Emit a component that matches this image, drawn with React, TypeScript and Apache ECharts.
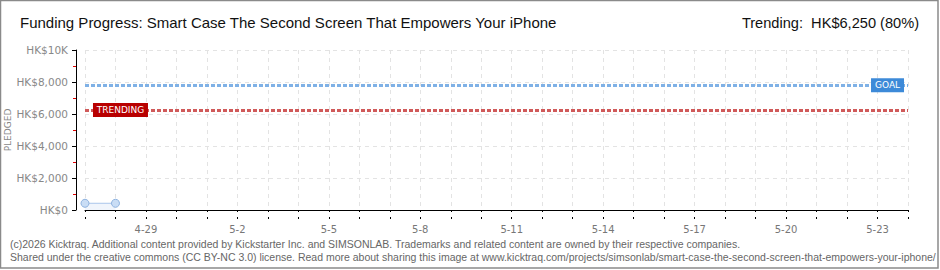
import React, { useEffect, useRef } from "react";
import * as echarts from "echarts";

const titleText = "Funding Progress: Smart Case The Second Screen That Empowers Your iPhone";
const trendingText = "Trending:  HK$6,250 (80%)";
const yAxisName = "PLEDGED";
const footerLine1 = "(c)2026 Kicktraq. Additional content provided by Kickstarter Inc. and SIMSONLAB. Trademarks and related content are owned by their respective companies.";
const footerLine2 = "Shared under the creative commons (CC BY-NC 3.0) license. Read more about sharing this image at www.kicktraq.com/projects/simsonlab/smart-case-the-second-screen-that-empowers-your-iphone/";

const days = [
  "4-27", "4-28", "4-29", "4-30", "5-1", "5-2", "5-3", "5-4", "5-5", "5-6",
  "5-7", "5-8", "5-9", "5-10", "5-11", "5-12", "5-13", "5-14", "5-15", "5-16",
  "5-17", "5-18", "5-19", "5-20", "5-21", "5-22", "5-23", "5-24",
];
const pledged = [420, 420];
const goalValue = 7800;
const trendingValue = 6250;
const yTicks = [0, 2000, 4000, 6000, 8000, 10000];

export default function App() {
  const ref = useRef<HTMLDivElement>(null);
  useEffect(() => {
    document.body.style.margin = "0";
    const chart = echarts.init(ref.current!, null, { renderer: "svg" });
    const pixelFont = "DejaVu Sans";
    const option: any = {
      animation: false,
      backgroundColor: "#fff",
      grid: { left: 85, right: 32, top: 50, bottom: 60, containLabel: false, outerBoundsMode: "none" },
      xAxis: [
        {
          type: "category",
          data: days,
          boundaryGap: false,
          offset: 9,
          axisLine: { show: true, lineStyle: { color: "#000", width: 1 } },
          axisTick: { show: true, interval: 0, length: 2, lineStyle: { color: "#000" } },
          axisLabel: {
            interval: (i: number) => i % 3 === 2,
            color: "#777",
            fontFamily: pixelFont,
            fontSize: 10,
            margin: 5,
          },
          splitLine: { show: true, interval: 0, lineStyle: { color: "#e3e3e3", type: [4, 4] } },
        },
        {
          type: "category",
          data: days,
          boundaryGap: false,
          position: "bottom",
          offset: 9,
          axisLine: { show: false },
          axisTick: { show: true, inside: true, interval: 0, length: 2, lineStyle: { color: "#000" } },
          axisLabel: { show: false },
          splitLine: { show: false },
        },
      ],
      yAxis: {
        type: "value",
        min: 0,
        max: 10000,
        interval: 2000,
        offset: 9,
        axisLine: { show: true, lineStyle: { color: "#000" } },
        axisTick: { show: true, length: 4, lineStyle: { color: "#000" } },
        minorTick: { show: true, splitNumber: 2, length: 3, lineStyle: { color: "#e00000" } },
        axisLabel: {
          color: "#888",
          fontFamily: pixelFont,
          fontSize: 10.5,
          margin: 8,
          formatter: (v: number) =>
            v === yTicks[yTicks.length - 1] ? "HK$10K" : "HK$" + v.toLocaleString("en-US"),
        },
        splitLine: { show: true, lineStyle: { color: "#e3e3e3", type: [4, 4] } },
      },
      series: [
        {
          type: "line",
          data: pledged,
          symbol: "circle",
          symbolSize: 8,
          itemStyle: { color: "#c9ddf5", borderColor: "#8eb2df", borderWidth: 1 },
          lineStyle: { color: "#a9c6ea", width: 1 },
          areaStyle: { color: "#e9f1fb" },
          z: 5,
          markLine: {
            silent: true,
            symbol: "none",
            label: { show: false },
            data: [
              { yAxis: goalValue, lineStyle: { color: "#7fb1e6", width: 3, type: [4, 2] } },
              { yAxis: trendingValue, lineStyle: { color: "#d05a5a", width: 3, type: [4, 2] } },
            ],
          },
          markPoint: {
            silent: true,
            data: [
              {
                coord: [days[1], trendingValue],
                symbol: "rect",
                symbolSize: [55, 14],
                symbolOffset: [5, 0],
                itemStyle: { color: "#b80000" },
                label: {
                  show: true,
                  formatter: "TRENDING",
                  color: "#fff",
                  fontFamily: pixelFont,
                  fontSize: 9,
                },
              },
              {
                coord: [days[26], goalValue],
                symbol: "rect",
                symbolSize: [33, 14],
                symbolOffset: [10, 0],
                itemStyle: { color: "#3d8ad8" },
                label: {
                  show: true,
                  formatter: "GOAL",
                  color: "#fff",
                  fontFamily: pixelFont,
                  fontSize: 9,
                },
              },
            ],
          },
        },
      ],
      graphic: [
        {
          type: "rect",
          shape: { x: 0.5, y: 0.5, width: 937.5, height: 267.5 },
          style: { fill: "none", stroke: "#8a8a8a", lineWidth: 1.5 },
          silent: true,
        },
        {
          type: "text",
          x: 8,
          y: 130,
          rotation: Math.PI / 2,
          style: {
            text: yAxisName,
            fill: "#888",
            font: "9px 'DejaVu Sans'",
            align: "center",
            verticalAlign: "middle",
          },
        },
        {
          type: "text",
          left: 20,
          top: 15,
          style: { text: titleText, fill: "#111", font: "15px 'Liberation Sans'" },
        },
        {
          type: "text",
          right: 21,
          top: 15,
          style: { text: trendingText, fill: "#111", font: "14.6px 'Liberation Sans'" },
        },
        {
          type: "text",
          left: 10,
          top: 238,
          style: { text: footerLine1, fill: "#666", font: "10.5px 'Liberation Sans'" },
        },
        {
          type: "text",
          left: 10,
          top: 251,
          style: { text: footerLine2, fill: "#666", font: "10.5px 'Liberation Sans'" },
        },
      ],
    };
    chart.setOption(option);
    return () => chart.dispose();
  }, []);
  return <div ref={ref} style={{ width: 940, height: 270 }} />;
}
